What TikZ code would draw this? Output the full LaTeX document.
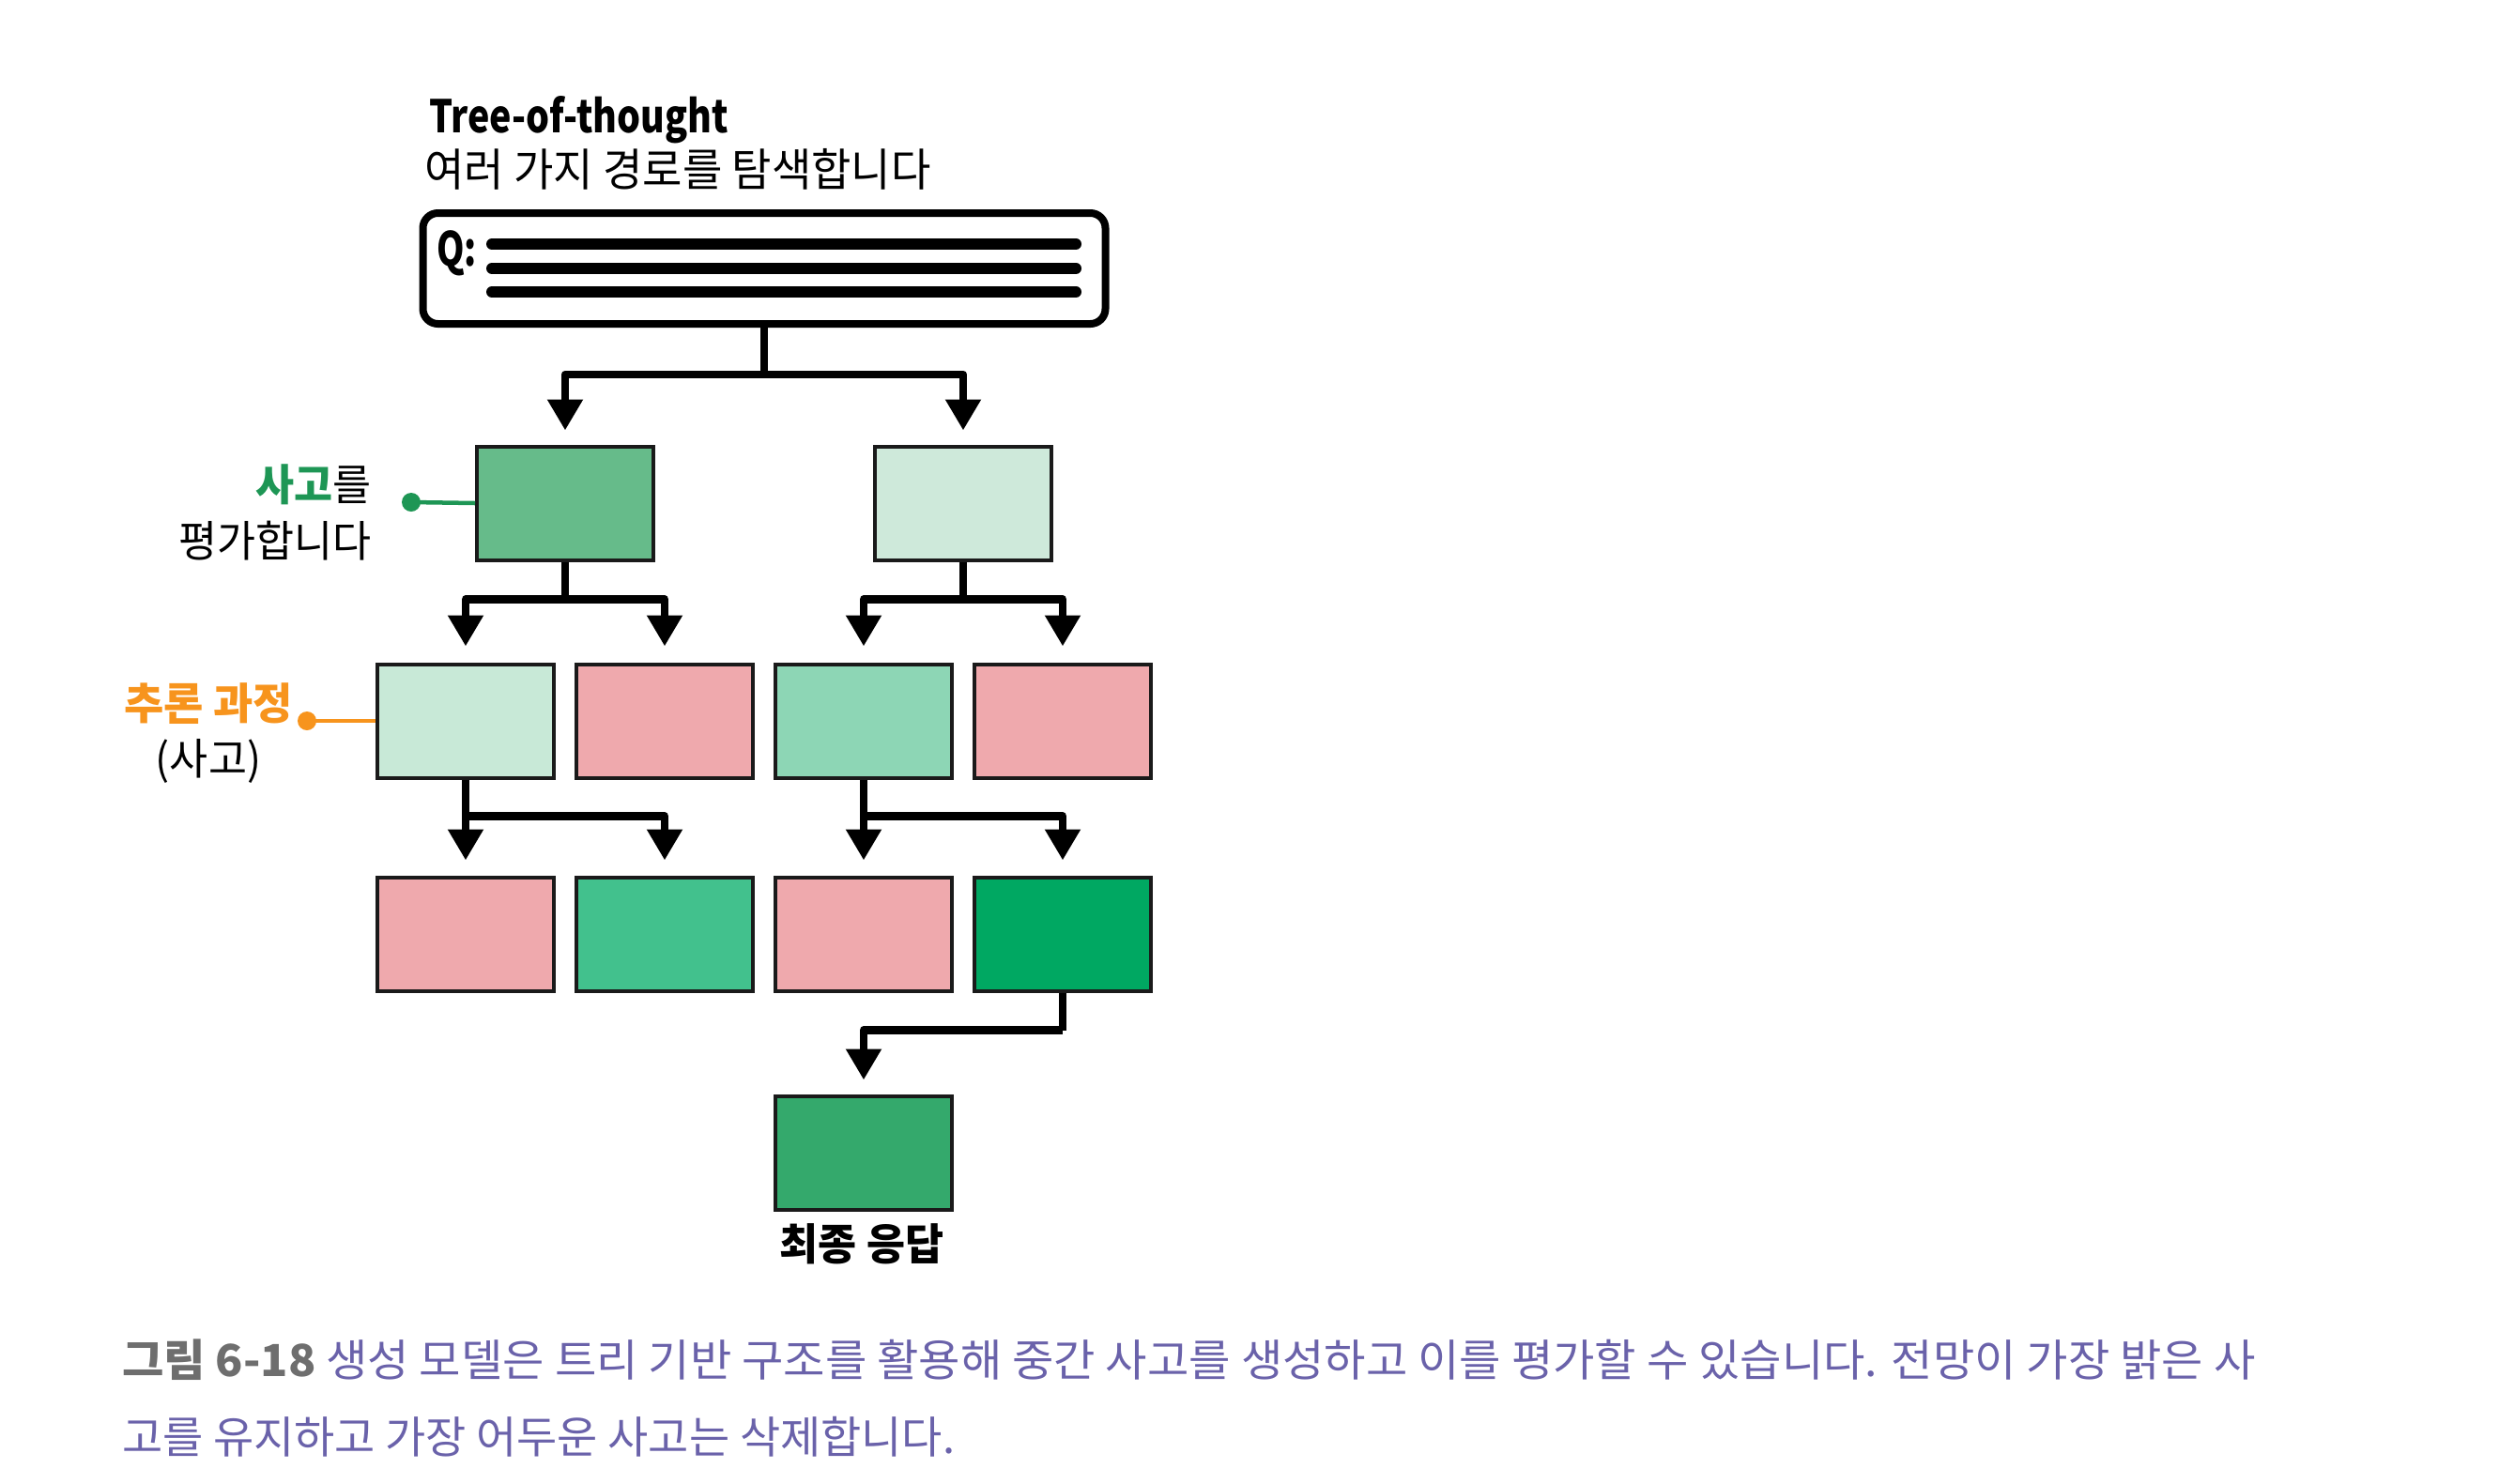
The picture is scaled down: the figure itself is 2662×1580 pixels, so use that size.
\documentclass[tikz,border=0pt]{standalone}
\usepackage{fontspec}
\setmainfont{Noto Sans CJK KR}
\usetikzlibrary{arrows.meta,calc}
\definecolor{lblgreen}{RGB}{30,150,85}
\definecolor{lblorange}{RGB}{247,148,29}
\definecolor{gA}{RGB}{102,187,138}
\definecolor{gB}{RGB}{206,233,218}
\definecolor{gC}{RGB}{200,233,215}
\definecolor{gD}{RGB}{141,214,181}
\definecolor{gE}{RGB}{66,193,141}
\definecolor{gF}{RGB}{0,168,98}
\definecolor{gG}{RGB}{52,169,108}
\definecolor{pk}{RGB}{239,169,173}
\definecolor{capgray}{RGB}{110,110,110}
\definecolor{cappurple}{RGB}{106,98,170}
\definecolor{edge}{RGB}{26,26,26}
\tikzset{
  thought/.style={draw=edge,line width=4pt,minimum width=188pt,minimum height=121pt,inner sep=0pt},
  conn/.style={line width=8.5pt,line join=round,-{Triangle[width=36pt,length=33pt]}},
  plainconn/.style={line width=8.5pt,line join=round},
  txt/.style={inner sep=0pt,outer sep=0pt},
}
\begin{document}
\begin{tikzpicture}[x=1pt,y=-1pt]
\useasboundingbox (0,0) rectangle (2662,1580);
% titles
\node[txt,anchor=base west] (title) at (457,141) {\fontsize{48}{52}\selectfont\bfseries\scalebox{0.82}[1]{Tree-of-thought}};
\node[txt,anchor=base west] (sub) at (452,198) {\fontsize{48}{52}\selectfont\scalebox{0.96}[1]{여러 가지 경로를 탐색합니다}};
% question box
\node[draw=black,line width=8pt,rounded corners=16pt,minimum width=727pt,minimum height=118pt,inner sep=0pt] (q) at (814,286) {};
\node[txt,anchor=west] (qlbl) at (465,270) {\fontsize{50}{54}\selectfont\bfseries\scalebox{0.75}[1]{Q:}};
\coordinate (l1a) at (524,260); \coordinate (l1b) at (1146,260);
\coordinate (l2a) at (524,286); \coordinate (l2b) at (1146,286);
\coordinate (l3a) at (524,311); \coordinate (l3b) at (1146,311);
\draw[line width=12pt,line cap=round] (l1a) -- (l1b);
\draw[line width=12pt,line cap=round] (l2a) -- (l2b);
\draw[line width=12pt,line cap=round] (l3a) -- (l3b);
% level 1
\node[thought,fill=gA] (a1) at (602,536) {};
\node[thought,fill=gB] (a2) at (1026,536) {};
% level 2
\node[thought,fill=gC] (b1) at (496,768) {};
\node[thought,fill=pk] (b2) at (708,768) {};
\node[thought,fill=gD] (b3) at (920,768) {};
\node[thought,fill=pk] (b4) at (1132,768) {};
% level 3
\node[thought,fill=pk] (c1) at (496,995) {};
\node[thought,fill=gE] (c2) at (708,995) {};
\node[thought,fill=pk] (c3) at (920,995) {};
\node[thought,fill=gF] (c4) at (1132,995) {};
% final
\node[thought,fill=gG] (d) at (920,1228) {};
\node[txt,anchor=base] (dlbl) at (918,1342) {\fontsize{46}{50}\selectfont\bfseries\scalebox{0.97}[1]{최종 응답}};
% connectors
\draw[plainconn] (q.south) -- ++(0,50) coordinate (qbar);
\draw[conn,shorten >=15pt] (qbar) -| (a1.north);
\draw[conn,shorten >=15pt] (qbar) -| (a2.north);
\draw[plainconn] (a1.south) -- ++(0,40) coordinate (a1bar);
\draw[conn,shorten >=17pt] (a1bar) -| (b1.north);
\draw[conn,shorten >=17pt] (a1bar) -| (b2.north);
\draw[plainconn] (a2.south) -- ++(0,40) coordinate (a2bar);
\draw[conn,shorten >=17pt] (a2bar) -| (b3.north);
\draw[conn,shorten >=17pt] (a2bar) -| (b4.north);
\draw[conn,shorten >=16pt] (b1.south) -- (c1.north);
\draw[plainconn] (b1.south) -- ++(0,39) coordinate (b1bar);
\draw[conn,shorten >=16pt] (b1bar) -| (c2.north);
\draw[conn,shorten >=16pt] (b3.south) -- (c3.north);
\draw[plainconn] (b3.south) -- ++(0,39) coordinate (b3bar);
\draw[conn,shorten >=16pt] (b3bar) -| (c4.north);
\draw[plainconn] (c4.south) -- ++(0,40) coordinate (c4bar);
\draw[conn,shorten >=15pt] (c4bar) -| (d.north);
% side labels
\coordinate (gdot) at (438,535);
\draw[lblgreen,line width=4.5pt] (gdot) -- (a1.west);
\fill[lblgreen] (gdot) circle (10pt);
\node[txt,anchor=base east] (lab1) at (396,533) {\fontsize{46}{50}\selectfont\scalebox{0.97}[1]{\textcolor{lblgreen}{\bfseries 사고}를}};
\node[txt,anchor=base east] (lab2) at (396,593) {\fontsize{46}{50}\selectfont\scalebox{0.97}[1]{평가합니다}};
\coordinate (odot) at (327,768);
\draw[lblorange,line width=4.5pt] (odot) -- (b1.west);
\fill[lblorange] (odot) circle (10pt);
\node[txt,anchor=base east] (lab3) at (312,766) {\fontsize{46}{50}\selectfont\bfseries\scalebox{1.0}[1]{\textcolor{lblorange}{추론 과정}}};
\node[txt,anchor=base] (lab4) at (222,825) {\fontsize{46}{50}\selectfont\scalebox{0.97}[1]{(사고)}};
% caption
\node[txt,anchor=base west] (cap1) at (130,1466) {\fontsize{47}{51}\selectfont\scalebox{1.027}[1]{\textcolor{capgray}{\bfseries 그림 6-18} \textcolor{cappurple}{생성 모델은 트리 기반 구조를 활용해 중간 사고를 생성하고 이를 평가할 수 있습니다. 전망이 가장 밝은 사}}};
\node[txt,anchor=base west] (cap2) at (130,1548) {\fontsize{47}{51}\selectfont\textcolor{cappurple}{고를 유지하고 가장 어두운 사고는 삭제합니다.}};
\end{tikzpicture}
\end{document}
